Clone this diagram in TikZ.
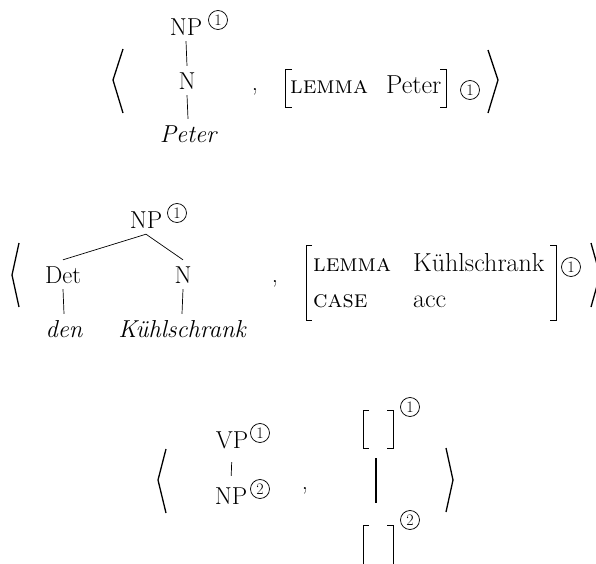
\documentclass[tikz,border=0pt]{standalone}
\begin{document}
\begin{tikzpicture}[x=1pt,y=-1pt,
  txt/.style={inner sep=0pt, anchor=base, font=\fontsize{24.5}{29}\selectfont},
  tree/.style={txt, text height=23pt, text depth=6pt},
  feat/.style={inner sep=0pt, anchor=base west, font=\fontsize{24.5}{29}\selectfont},
  val/.style={inner sep=0pt, anchor=base west, font=\fontsize{26}{30}\selectfont},
  circnum/.style={circle, draw, line width=0.75pt, minimum size=19pt, inner sep=0pt, font=\fontsize{16}{16}\selectfont},
  edge/.style={line width=0.7pt},
  angl/.style={line width=1.3pt, line join=miter},
  brk/.style={line width=1pt, line join=miter},
  bar/.style={line width=2pt}]
\useasboundingbox (0,0) rectangle (596,563);

% ---------- Row 1 ----------
\draw[angl] (123,49) -- (113,80) -- (123,113);
\node[tree] (np1) at (186,35) {NP};
\node[circnum] (c1a) at (218,20) {1};
\node[tree] (n1) at (187,89) {N};
\node[tree] (peter1) at (188,142) {\itshape Peter};
\draw[edge] (np1.south) -- (n1.north);
\draw[edge] (n1.south) -- (peter1.north);
\node[txt] (comma1) at (255,90) {,};
\draw[brk] (292,69) -- (285,69) -- (285,107) -- (292,107);
\node[feat] (lemma1) at (290,93) {\textsc{lemma}};
\node[val] (val1) at (386,93) {Peter};
\draw[brk] (440,69) -- (446,69) -- (446,107) -- (440,107);
\node[circnum] (c1b) at (470,90) {1};
\draw[angl] (488,50) -- (498,80) -- (488,113);

% ---------- Row 2 ----------
\draw[angl] (19,243) -- (12,275) -- (19,307);
\node[tree] (np2) at (146,228) {NP};
\node[circnum] (c2a) at (177,213) {1};
\node[tree] (det2) at (63,283) {Det};
\node[tree] (n2) at (183,283) {N};
\node[tree] (den2) at (64,337) {\itshape den};
\node[tree] (ks2) at (182,337) {\itshape Kühlschrank};
\draw[edge] (np2.south) -- (det2.north);
\draw[edge] (np2.south) -- (n2.north);
\draw[edge] (det2.south) -- (den2.north);
\draw[edge] (n2.south) -- (ks2.north);
\node[txt] (comma2) at (275,282) {,};
\draw[brk] (312,245) -- (306,245) -- (306,320) -- (312,320);
\node[feat] (lemma2) at (313,271) {\textsc{lemma}};
\node[val] (val2) at (413,271) {Kühlschrank};
\node[feat] (case2) at (313,307) {\textsc{case}};
\node[val] (acc2) at (413,307) {acc};
\draw[brk] (550,245) -- (556,245) -- (556,320) -- (550,320);
\node[circnum] (c2b) at (571,267) {1};
\draw[angl] (591,243) -- (600,275) -- (591,307);

% ---------- Row 3 ----------
\draw[angl] (166,449) -- (158,480) -- (166,513);
\node[tree] (vp3) at (232,448) {VP};
\node[circnum] (c3a) at (260,433) {1};
\node[tree] (np3) at (231,504) {NP};
\node[circnum] (c3b) at (260,489) {2};
\draw[edge, shorten <=8pt, shorten >=5pt] (vp3.south) -- (np3.north);
\node[txt] (comma3) at (305,489) {,};
\draw[brk] (369,410) -- (363,410) -- (363,448) -- (369,448);
\draw[brk] (387,410) -- (393,410) -- (393,448) -- (387,448);
\node[circnum] (c3c) at (410,407) {1};
\coordinate (bartop) at (376,458);
\coordinate (barbot) at (376,503);
\draw[bar] (bartop) -- (barbot);
\draw[brk] (369,525) -- (363,525) -- (363,570);
\draw[brk] (387,525) -- (393,525) -- (393,570);
\node[circnum] (c3d) at (410,520) {2};
\draw[angl] (446,448) -- (453,480) -- (446,512);
\end{tikzpicture}
\end{document}
